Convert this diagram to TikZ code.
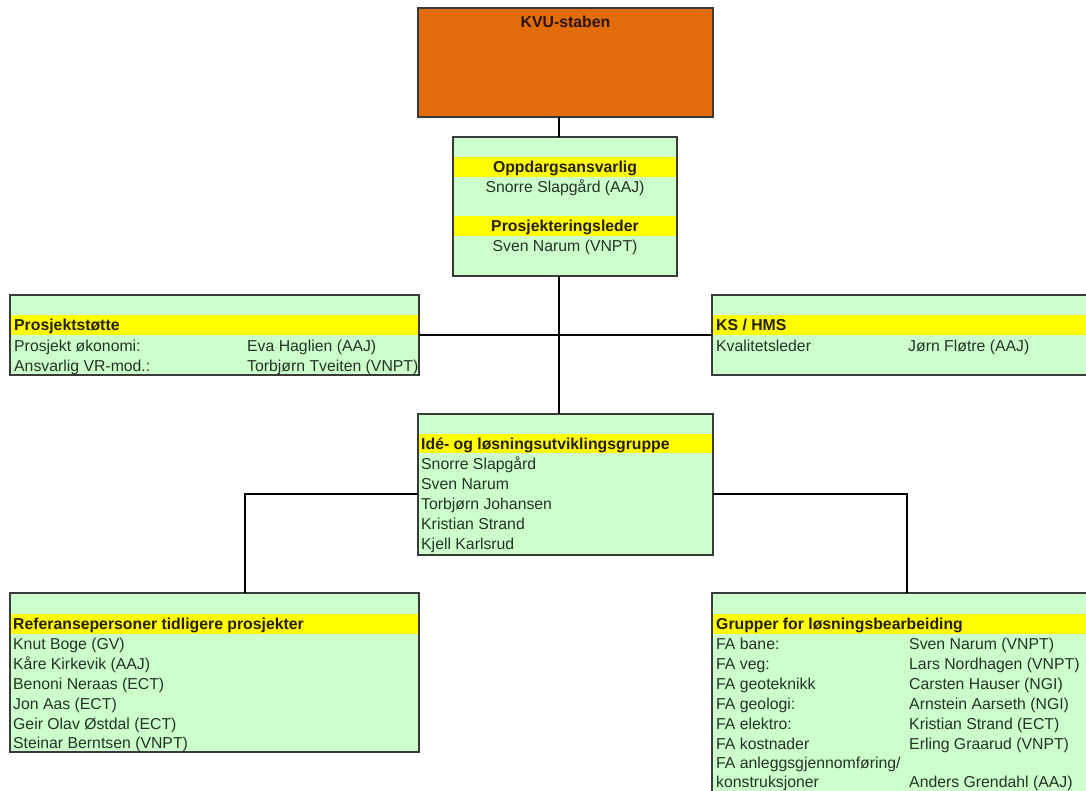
\documentclass[tikz,border=0pt]{standalone}
\usepackage{fontspec}
\setmainfont{Liberation Sans}
\usetikzlibrary{calc}

\definecolor{boxgreen}{HTML}{CCFFCC}
\definecolor{band}{HTML}{FFFF00}
\definecolor{kvuorange}{HTML}{E36C0A}
\definecolor{frame}{HTML}{3A3A3A}
\definecolor{bodytext}{HTML}{243424}
\definecolor{headtext}{HTML}{262000}
\definecolor{kvutext}{HTML}{2B1400}

\tikzset{
  orgbox/.style={draw=frame, line width=1.8pt, fill=boxgreen, anchor=north west,
                 inner sep=0pt, outer sep=0pt},
  strip/.style={fill=band},
  lbl/.style={anchor=base west, inner sep=0pt, font=\fontsize{15.8}{20}\selectfont, text=bodytext},
  hdr/.style={lbl, font=\fontsize{15.8}{20}\selectfont\bfseries, text=headtext},
  link/.style={line width=2.8pt, black},
}

\begin{document}
\begin{tikzpicture}[x=1pt, y=-1pt]
  \clip (0,0) rectangle (1086,790);
  \fill[white] (0,0) rectangle (1086,790);

  % trunk and branch positions
  \coordinate (trunk) at (559,0);
  \coordinate (split) at (0,494);
  \coordinate (lefttap) at (245,0);
  \coordinate (righttap) at (907,0);

  % boxes
  \node[orgbox, fill=kvuorange, minimum width=295pt, minimum height=109pt] (kvu) at (418,8) {};
  \node[orgbox, minimum width=224pt, minimum height=139pt] (opp) at (453,137) {};
  \node[orgbox, minimum width=409pt, minimum height=80pt] (stotte) at (10,295) {};
  \node[orgbox, minimum width=380pt, minimum height=80pt] (ks) at (712,295) {};
  \node[orgbox, minimum width=295pt, minimum height=141pt] (ide) at (418,414) {};
  \node[orgbox, minimum width=409pt, minimum height=159pt] (ref) at (10,593) {};
  \node[orgbox, minimum width=380pt, minimum height=205pt] (grp) at (712,593) {};

  % yellow header strips
  \fill[strip] (453.9,157) rectangle (676.1,177);
  \fill[strip] (453.9,216) rectangle (676.1,236);
  \fill[strip] (10.9,315) rectangle (418.1,335);
  \fill[strip] (712.9,315) rectangle (1092,335);
  \fill[strip] (418.9,434) rectangle (712.1,453);
  \fill[strip] (10.9,614) rectangle (418.1,634);
  \fill[strip] (712.9,614) rectangle (1092,634);

  % connectors
  \draw[link] (kvu.south -| trunk) -- (opp.north -| trunk);
  \draw[link] (opp.south -| trunk) -- (ide.north -| trunk);
  \draw[link] (stotte.east) -- (ks.west);
  \draw[link] (ide.west |- split) -| (ref.north -| lefttap);
  \draw[link] (ide.east |- split) -| (grp.north -| righttap);

  % KVU-staben
  \node[hdr, anchor=base, text=kvutext] (kvuname) at (565.5,27) {KVU-staben};

  % Oppdragsansvarlig / Prosjekteringsleder
  \node[hdr, anchor=base] (opph1) at (565,172.5) {Oppdargsansvarlig};
  \node[lbl, anchor=base] (oppn1) at (565,192) {Snorre Slapgård (AAJ)};
  \node[hdr, anchor=base] (opph2) at (565,231.5) {Prosjekteringsleder};
  \node[lbl, anchor=base] (oppn2) at (565,251) {Sven Narum (VNPT)};

  % Prosjektstøtte
  \node[hdr] (sth) at (14,330.5) {Prosjektstøtte};
  \node[lbl] (st1a) at (14,351) {Prosjekt økonomi:};
  \node[lbl] (st1b) at (247,351) {Eva Haglien (AAJ)};
  \node[lbl] (st2a) at (14,371) {Ansvarlig VR-mod.:};
  \node[lbl] (st2b) at (247,371) {Torbjørn Tveiten (VNPT)};

  % KS / HMS
  \node[hdr] (ksh) at (716,330.5) {KS / HMS};
  \node[lbl] (ks1a) at (716,351) {Kvalitetsleder};
  \node[lbl] (ks1b) at (908,351) {Jørn Fløtre (AAJ)};

  % Idé- og løsningsutviklingsgruppe
  \node[hdr] (ideh) at (421,449) {Idé- og løsningsutviklingsgruppe};
  \node[lbl] (ide1) at (421,469.5) {Snorre Slapgård};
  \node[lbl] (ide2) at (421,489.5) {Sven Narum};
  \node[lbl] (ide3) at (421,509.5) {Torbjørn Johansen};
  \node[lbl] (ide4) at (421,529.5) {Kristian Strand};
  \node[lbl] (ide5) at (421,549) {Kjell Karlsrud};

  % Referansepersoner
  \node[hdr] (refh) at (13,629) {Referansepersoner tidligere prosjekter};
  \node[lbl] (ref1) at (13,649) {Knut Boge (GV)};
  \node[lbl] (ref2) at (13,669) {Kåre Kirkevik (AAJ)};
  \node[lbl] (ref3) at (13,689) {Benoni Neraas (ECT)};
  \node[lbl] (ref4) at (13,709) {Jon Aas (ECT)};
  \node[lbl] (ref5) at (13,729) {Geir Olav Østdal (ECT)};
  \node[lbl] (ref6) at (13,748) {Steinar Berntsen (VNPT)};

  % Grupper for løsningsbearbeiding
  \node[hdr] (grph) at (716,629) {Grupper for løsningsbearbeiding};
  \node[lbl] (g1a) at (716,649) {FA bane:};
  \node[lbl] (g1b) at (909,649) {Sven Narum (VNPT)};
  \node[lbl] (g2a) at (716,669) {FA veg:};
  \node[lbl] (g2b) at (909,669) {Lars Nordhagen (VNPT)};
  \node[lbl] (g3a) at (716,689) {FA geoteknikk};
  \node[lbl] (g3b) at (909,689) {Carsten Hauser (NGI)};
  \node[lbl] (g4a) at (716,709) {FA geologi:};
  \node[lbl] (g4b) at (909,709) {Arnstein Aarseth (NGI)};
  \node[lbl] (g5a) at (716,729) {FA elektro:};
  \node[lbl] (g5b) at (909,729) {Kristian Strand (ECT)};
  \node[lbl] (g6a) at (716,749) {FA kostnader};
  \node[lbl] (g6b) at (909,749) {Erling Graarud (VNPT)};
  \node[lbl] (g7a) at (716,768) {FA anleggsgjennomføring/};
  \node[lbl] (g8a) at (716,787) {konstruksjoner};
  \node[lbl] (g8b) at (909,787) {Anders Grendahl (AAJ)};
\end{tikzpicture}
\end{document}
